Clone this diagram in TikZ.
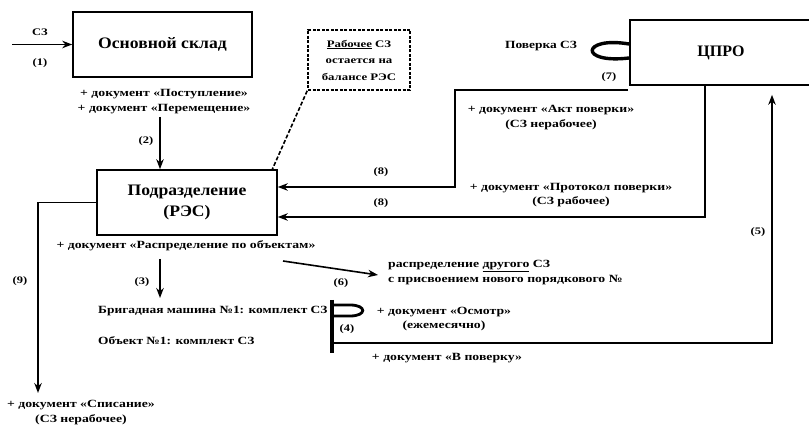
\documentclass[tikz,border=0pt]{standalone}
\usepackage{fontspec}
\setmainfont{Liberation Serif}
\newfontfamily\fdoc[FakeStretch=1.25]{Liberation Serif}
\newfontfamily\fmid[FakeStretch=1.22]{Liberation Serif}
\newfontfamily\fbig[FakeStretch=1.1]{Liberation Serif}
\newfontfamily\fdash[FakeStretch=1.28]{Liberation Serif}
\usetikzlibrary{arrows.meta}
\begin{document}
\begin{tikzpicture}[x=1pt,y=-1pt,
  box/.style={draw,line width=1.6pt,inner sep=0pt},
  ln/.style={line width=1.6pt},
  arr/.style={ln,-{Stealth[length=10pt,width=7.5pt]}},
  doc/.style={font=\fdoc\bfseries\fontsize{11}{14.5}\selectfont,inner sep=0pt,align=center},
  num/.style={font=\fdoc\bfseries\fontsize{10}{11}\selectfont,inner sep=0pt},
  big/.style={font=\fbig\bfseries\fontsize{16}{21}\selectfont,align=center},
  mid/.style={font=\fmid\bfseries\fontsize{11}{13}\selectfont,inner sep=0pt},
  dsh/.style={font=\fdash\bfseries\fontsize{10}{16.5}\selectfont,inner sep=0pt,align=center},
  dashln/.style={line width=1.6pt,dash pattern=on 3pt off 1.5pt}
]
\useasboundingbox (0,0) rectangle (809,427);

% boxes
\node[box,big,minimum width=179pt,minimum height=65pt] (sklad) at (162.5,44.5) {Основной склад};
\node[box,big,minimum width=180pt,minimum height=65pt] (ras) at (187,202.5) {Подразделение\\(РЭС)};
\node[box,minimum width=182pt,minimum height=65pt,font=\bfseries\fontsize{16}{20}\selectfont] (cpro) at (721,52.5) {ЦПРО};
\node[box,dashln,dsh,minimum width=102pt,minimum height=60pt] (rab) at (359,60) {\underline{Рабочее} СЗ\\остается на\\балансе РЭС};

% (1)
\coordinate (in1) at (12,44.5);
\draw[arr] (in1) -- (sklad.west);
\node[num] (l1a) at (40,32) {СЗ};
\node[num] (l1) at (40,63) {(1)};

% docs under sklad
\node[doc] (d1) at (164,101.5) {+ документ «Поступление»\\+ документ «Перемещение»};

% (2)
\coordinate (a2) at (160,117);
\draw[arr] (a2) -- (a2 |- ras.north);
\node[num] (l2) at (146,141) {(2)};

% dashed connector
\coordinate (rc) at (272,170);
\draw[line width=1.6pt,dash pattern=on 4pt off 2pt] (rab.south west) -- (rc);

% (7) loop
\node[mid] (pov) at (541,46) {Поверка СЗ};
\draw[line width=3.4pt] (629,44) .. controls (582,36) and (578,64) .. (629,58);
\node[num] (l7) at (609,77) {(7)};

% (8) upper
\coordinate (c8a) at (628,90);
\coordinate (k1) at (455,187);
\draw[arr] (c8a) -- (k1 |- c8a) -- (k1) -- (k1 -| ras.east);
\node[num] (l8a) at (381,172) {(8)};
\node[doc] (akt) at (551,117.5) {+ документ «Акт поверки»\\(СЗ нерабочее)};

% (8) lower
\coordinate (k2) at (705,217);
\draw[arr] (k2 |- cpro.south) -- (k2) -- (k2 -| ras.east);
\node[num] (l8b) at (381,203) {(8)};
\node[doc] (prot) at (571,195) {+ документ «Протокол поверки»\\(СЗ рабочее)};

% (9)
\coordinate (e9) at (38,393);
\draw[arr] (ras.west) -| (e9);
\node[num] (l9) at (20,281) {(9)};
\node[doc] (spis) at (81,412.5) {+ документ «Списание»\\(СЗ нерабочее)};

% distribution
\node[doc] (rasp) at (186,246) {+ документ «Распределение по объектам»};
\coordinate (a3) at (160,259);
\draw[arr] (a3) -- (160,298);
\node[num] (l3) at (142,282) {(3)};

\node[mid,anchor=west] (brig) at (98,311) {Бригадная машина №1: комплект СЗ};
\node[mid,anchor=west] (obj) at (98,341) {Объект №1: комплект СЗ};

% (6)
\node[doc,align=left,anchor=west] (drug) at (388,272.5) {распределение \underline{другого} СЗ\\с присвоением нового порядкового №};
\coordinate (s6) at (283,261);
\draw[arr] (s6) -- ([xshift=-10pt,yshift=-2.5pt]drug.west);
\node[num] (l6) at (341,283) {(6)};

% bar and (4) loop
\coordinate (bt) at (332,300);
\coordinate (bb) at (332,353);
\draw[line width=3.2pt] (bt) -- (bb);
\draw[line width=2.8pt] (332,305) -- (350,305) .. controls (367,305) and (367,316) .. (350,316) -- (334,316);
\node[num] (l4) at (347,329) {(4)};
\node[doc] (osm) at (444,319) {+ документ «Осмотр»\\(ежемесячно)};

% (5)
\coordinate (k5) at (772,343);
\draw[arr,shorten >=9pt] (333,343) -- (k5) -- (k5 |- cpro.south);
\node[num] (l5) at (758,232) {(5)};
\node[doc] (vpov) at (447,358) {+ документ «В поверку»};
\end{tikzpicture}
\end{document}
